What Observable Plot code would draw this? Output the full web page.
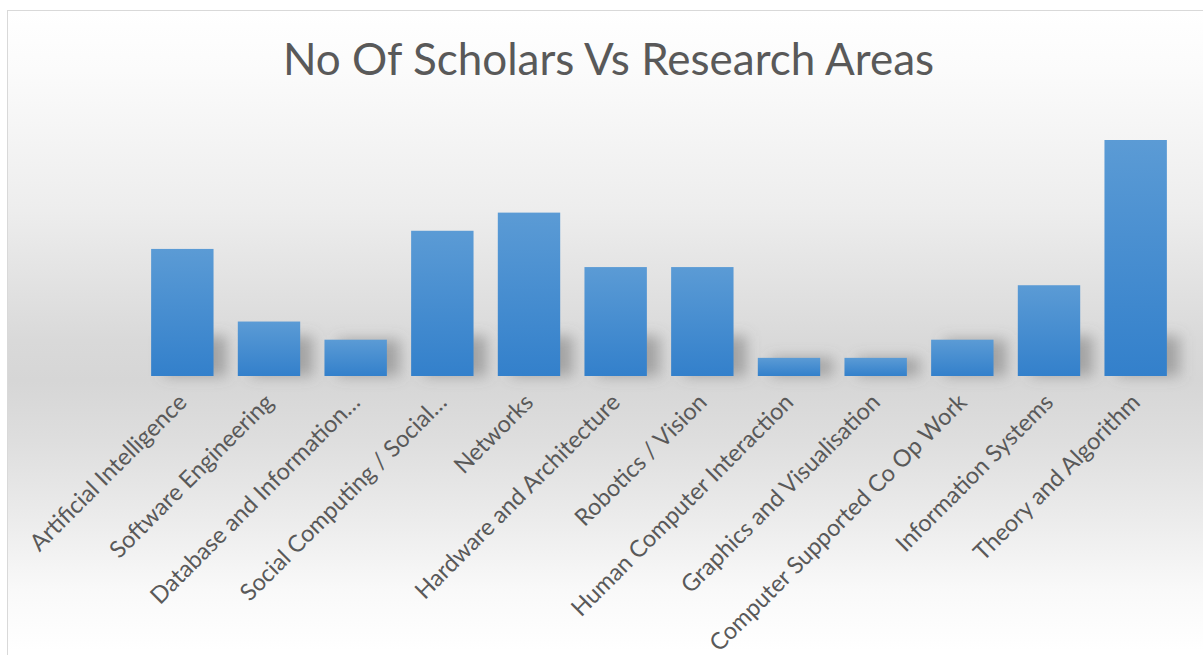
<!DOCTYPE html>
<html>
<head>
<meta charset="utf-8">
<script src="https://cdn.jsdelivr.net/npm/d3@7"></script>
<script src="https://cdn.jsdelivr.net/npm/@observablehq/plot@0.6"></script>
<style>
  html, body { margin: 0; padding: 0; background: #fff; overflow: hidden; }
  #frame {
    position: absolute; left: 7px; top: 10px; width: 1210px; height: 660px;
    border: 1.5px solid #d9d9d9; box-sizing: border-box;
    background: linear-gradient(to bottom, #ffffff 0px, #fbfbfb 60px, #ededed 200px, #d9d9d9 330px, #d6d6d6 370px, #dedede 430px, #ececec 510px, #f9f9f9 580px, #ffffff 640px);
  }
  #chart { position: absolute; left: 0; top: 0; }
</style>
</head>
<body>
<div id="frame"></div>
<div id="chart"></div>
<script>
const title = "No Of Scholars Vs Research Areas";
const areas = [
  "Artificial Intelligence",
  "Software Engineering",
  "Database and Information…",
  "Social Computing / Social…",
  "Networks",
  "Hardware and Architecture",
  "Robotics / Vision",
  "Human Computer Interaction",
  "Graphics and Visualisation",
  "Computer Supported Co Op Work",
  "Information Systems",
  "Theory and Algorithm"
];
const scholars = [7, 3, 2, 8, 9, 6, 6, 1, 1, 2, 5, 13];

const data = areas.map((a, i) => ({area: a, value: scholars[i]}));

const chart = Plot.plot({
  width: 1203,
  height: 655,
  marginLeft: 139,
  marginRight: 24,
  marginTop: 140,
  marginBottom: 279,
  style: {background: "transparent", fontFamily: "Lato, sans-serif", color: "#595959"},
  x: {domain: areas, paddingInner: 0.28, paddingOuter: 0.14, round: false, label: null},
  y: {domain: [0, 13], axis: null},
  marks: [
    Plot.barY(data, {x: "area", y: d => Math.min(d.value, 2.2), fill: "#6e6e6e", fillOpacity: 0.5, dx: 13, className: "shadow"}),
    Plot.barY(data, {x: "area", y: "value", fill: "url(#barGrad)"}),
    Plot.axisX({tickRotate: -45, tickSize: 0, tickPadding: 22, fontSize: 23.5, label: null, fill: "#595959"}),
    Plot.text([title], {text: d => d, frameAnchor: "top", dx: -51, dy: -140 + 83 - 40, fontSize: 44, fill: "#595959", lineAnchor: "top", fontFamily: "Lato, sans-serif"})
  ]
});

const svg = d3.select(chart);
const defs = svg.insert("defs", ":first-child");
const g = defs.append("linearGradient").attr("id", "barGrad").attr("x1", 0).attr("y1", 0).attr("x2", 0).attr("y2", 1);
g.append("stop").attr("offset", "0%").attr("stop-color", "#5b9bd5");
g.append("stop").attr("offset", "100%").attr("stop-color", "#3380cb");
defs.append("filter").attr("id", "blurShadow").attr("x", "-50%").attr("y", "-50%").attr("width", "200%").attr("height", "200%")
  .append("feGaussianBlur").attr("stdDeviation", 7);
svg.selectAll(".shadow").attr("filter", "url(#blurShadow)");

document.getElementById("chart").appendChild(chart);
</script>
</body>
</html>
